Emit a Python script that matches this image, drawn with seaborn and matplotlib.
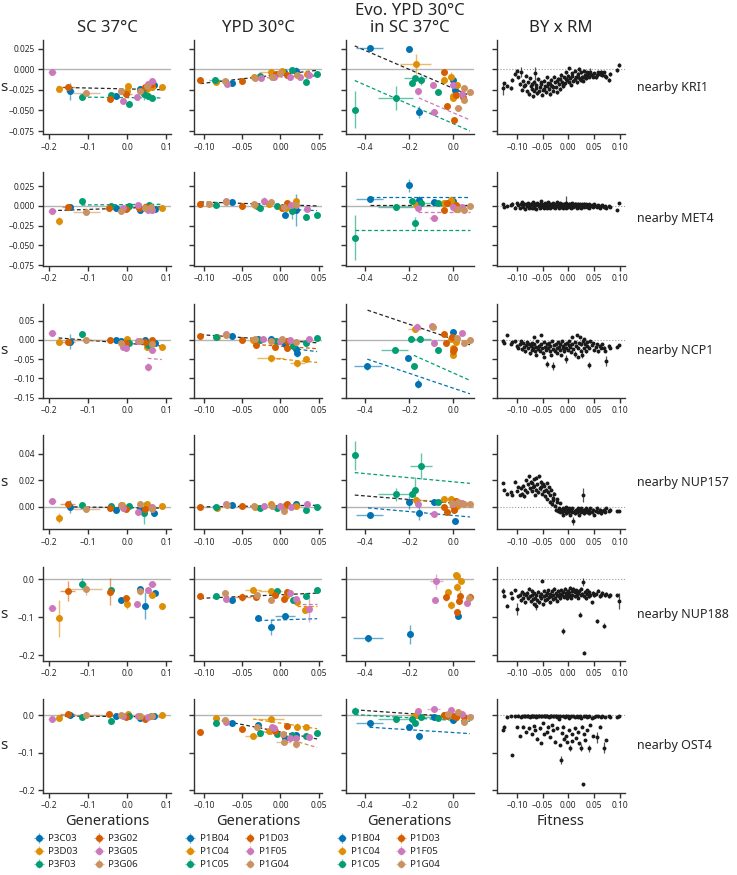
import numpy as np
import matplotlib
matplotlib.use("Agg")
import matplotlib.pyplot as plt
import seaborn as sns

# ---------------- data ----------------
GENES = ["KRI1", "MET4", "NCP1", "NUP157", "NUP188", "OST4"]
COL_TITLES = ["SC 37°C", "YPD 30°C", "Evo. YPD 30°C\nin SC 37°C", "BY x RM"]
XLABELS = ["Generations", "Generations", "Generations", "Fitness"]
STRAINS_P3 = ["P3C03", "P3D03", "P3F03", "P3G02", "P3G05", "P3G06"]
STRAINS_P1 = ["P1B04", "P1C04", "P1C05", "P1D03", "P1F05", "P1G04"]

# (strain index, generations, s[, xerr, yerr])
KRI1_SC37 = [(4,-0.193,-0.004,0.010,0.002),(1,-0.176,-0.0236,0.004,0.004),(3,-0.153,-0.0216,0.020,0.002),
             (0,-0.146,-0.027,0.010,0.010),(2,-0.117,-0.034),(5,-0.105,-0.029,0.035,0.002),(3,-0.044,-0.036),
             (2,-0.041,-0.031),(0,-0.030,-0.033),(5,-0.017,-0.026),(4,-0.011,-0.039,0.008,0.002),(1,0.001,-0.021),
             (1,-0.001,-0.026,0.004,0.004),(2,0.004,-0.042),(3,-0.004,-0.030,0.015,0.003),(4,0.024,-0.034),
             (0,0.031,-0.024),(5,0.031,-0.027),(2,0.042,-0.030,0.004,0.008),(3,0.046,-0.022),(1,0.049,-0.024),
             (5,0.050,-0.021),(4,0.054,-0.018),(2,0.053,-0.033),(4,0.062,-0.014,0.010,0.003),(3,0.064,-0.018),
             (1,0.062,-0.022),(2,0.063,-0.035),(0,0.069,-0.019),(1,0.088,-0.022)]
KRI1_YPD30 = [(3,-0.105,-0.013),(2,-0.086,-0.013,0.008,0.002),(1,-0.084,-0.016),(5,-0.073,-0.014),(4,-0.070,-0.018),
              (0,-0.063,-0.017),(3,-0.051,-0.014),(5,-0.034,-0.011),(1,-0.035,-0.009),(2,-0.027,-0.008),
              (4,-0.026,-0.011),(1,-0.013,-0.004,0.015,0.002),(5,-0.011,-0.0096),(4,-0.008,-0.010),(3,-0.006,-0.006),
              (1,0.002,-0.0024),(5,0.000,-0.005),(0,0.005,-0.004),(3,0.008,-0.0076),(4,0.013,-0.0096),
              (2,0.015,-0.0016),(0,0.020,-0.002,0.004,0.005),(5,0.022,-0.007),(4,0.026,-0.009),(1,0.035,-0.006),
              (2,0.034,-0.015),(4,0.037,-0.0076),(2,0.048,-0.006)]
KRI1_EVO = [(0,-0.381,0.026,0.062,0.002),(0,-0.201,0.025),(1,-0.171,0.0064,0.071,0.012),(2,-0.174,-0.011,0.050,0.003),
            (2,-0.187,-0.017),(2,-0.148,-0.0128,0.008,0.006),(4,-0.160,-0.027,0.008,0.004),(0,-0.157,-0.052,0.008,0.007),
            (2,-0.262,-0.035,0.080,0.015),(2,-0.448,-0.049,0.008,0.022),(4,-0.089,-0.052,0.020,0.002),
            (2,-0.069,-0.0276),(4,-0.094,-0.019),(3,-0.044,-0.0032),(1,-0.041,-0.0128,0.008,0.004),
            (1,-0.009,-0.009,0.008,0.005),(3,-0.030,-0.045),(0,0.000,-0.0136),(0,0.007,-0.025),(4,-0.004,-0.019),
            (1,-0.002,-0.035),(1,0.018,-0.019),(3,0.012,-0.031),(5,0.021,-0.047,0.020,0.002),(3,0.004,-0.062),
            (1,-0.003,-0.032),(4,0.037,-0.030),(5,0.046,-0.023),(5,0.046,-0.038),(3,0.043,-0.034),(5,0.075,-0.028)]

MET4_SC37 = [(4,-0.193,-0.0062,0.010,0.004),(1,-0.176,-0.0186,0.004,0.005),(3,-0.153,-0.0012,0.015,0.002),
             (0,-0.146,-0.0012,0.004,0.004),(2,-0.117,0.0058,0.004,0.004),(5,-0.105,-0.0079,0.035,0.002),
             (3,-0.047,-0.002),(2,-0.042,0.000),(0,-0.030,-0.002),(5,-0.017,-0.006),(3,-0.004,-0.004),
             (4,-0.010,-0.003),(2,0.004,0.000),(1,0.000,-0.002),(4,0.026,0.001),(3,0.029,-0.002),(0,0.032,-0.005),
             (5,0.044,-0.003),(1,0.046,-0.001),(2,0.056,0.001),(4,0.054,-0.0054),(3,0.051,-0.001),(4,0.062,-0.005),
             (5,0.061,-0.001),(0,0.071,-0.0045),(1,0.088,-0.002)]
MET4_YPD30 = [(3,-0.105,0.002),(5,-0.093,0.003),(2,-0.085,0.0012),(4,-0.072,0.006),(5,-0.071,0.005),(0,-0.063,0.0045),
              (3,-0.051,0.0004),(5,-0.035,0.003),(1,-0.034,0.001),(0,-0.031,0.000),(2,-0.027,-0.003),
              (4,-0.022,0.006,0.002,0.005),(5,-0.013,0.0045),(1,-0.015,0.002),(2,-0.005,0.000),(3,0.002,-0.003),
              (5,0.005,-0.001),(3,0.008,0.004),(1,0.007,-0.002),(0,0.006,-0.0116),(2,0.015,-0.006,0.003,0.010),
              (4,0.014,0.0012),(1,0.020,0.006,0.002,0.003),(0,0.021,-0.0054,0.004,0.020),(5,0.021,0.001),
              (4,0.035,-0.004),(2,0.034,-0.0145),(2,0.048,-0.0116)]
MET4_EVO = [(0,-0.381,0.009,0.060,0.002),(0,-0.201,0.026,0.004,0.008),(2,-0.448,-0.040,0.004,0.028),
            (2,-0.262,-0.0012,0.080,0.004),(2,-0.187,0.0058),(2,-0.174,-0.022,0.004,0.008),(0,-0.157,0.007,0.006,0.006),
            (2,-0.148,0.004,0.050,0.002),(1,-0.171,0.0012),(4,-0.160,-0.003),(4,-0.089,-0.015,0.020,0.002),
            (2,-0.069,0.0037),(0,-0.089,0.0045),(3,-0.044,-0.005),(1,-0.041,0.0037),(1,-0.009,0.008,0.008,0.004),
            (3,-0.030,0.004),(0,0.000,0.006),(1,-0.002,0.002),(3,0.012,0.001),(5,0.021,-0.004,0.020,0.002),
            (4,-0.004,-0.001),(5,0.046,-0.005),(4,0.037,-0.001),(5,0.075,0.000),(1,0.010,-0.004)]

NCP1_SC37 = [(4,-0.193,0.0186,0.010,0.003),(1,-0.176,-0.005,0.004,0.006),(3,-0.153,-0.005,0.020,0.003),
             (0,-0.146,-0.005,0.004,0.019),(2,-0.117,0.0144),(5,-0.105,-0.001,0.035,0.003),(3,-0.044,-0.001,0.004,0.006),
             (0,-0.030,-0.001),(0,-0.016,-0.0017),(1,-0.001,0.001),(5,-0.016,-0.008),(3,-0.004,-0.009),
             (4,-0.011,-0.018),(4,-0.004,-0.020),(2,0.004,-0.007),(4,0.026,-0.004),(5,0.031,-0.004),(0,0.046,0.000),
             (3,0.044,-0.006),(2,0.054,-0.0136),(1,0.051,-0.018),(4,0.052,-0.071,0.004,0.010),(5,0.062,-0.010),
             (4,0.062,-0.026,0.010,0.004),(3,0.064,0.000),(2,0.064,-0.0085),(0,0.070,-0.007),(1,0.088,-0.018)]
NCP1_YPD30 = [(3,-0.105,0.010),(2,-0.085,0.0068),(1,-0.083,0.008),(5,-0.072,0.0127),(4,-0.071,0.015,0.002,0.005),
              (0,-0.063,0.011),(3,-0.051,0.000),(0,-0.029,0.003),(5,-0.034,0.001),(1,-0.036,0.000),(2,-0.027,-0.001),
              (3,-0.032,-0.0127),(4,-0.023,0.001),(0,-0.013,0.003),(5,-0.012,-0.002),(1,-0.013,-0.048,0.018,0.010),
              (3,-0.007,-0.0195),(2,-0.006,-0.0034),(5,0.002,0.0034),(4,0.000,-0.002),(3,0.008,-0.021),
              (3,0.009,-0.0034),(0,0.006,-0.012,0.010,0.002),(4,0.013,-0.001),(2,0.016,-0.016),(0,0.021,-0.023),
              (0,0.022,-0.035,0.002,0.010),(1,0.022,-0.061,0.010,0.010),(5,0.020,-0.005),(1,0.034,-0.050),
              (2,0.034,-0.0076),(4,0.037,0.0025),(2,0.048,0.005)]
NCP1_EVO = [(0,-0.391,-0.069,0.060,0.010),(0,-0.206,-0.047,0.004,0.006),(0,-0.162,-0.114,0.004,0.012),
            (2,-0.267,-0.027,0.060,0.003),(2,-0.192,0.001),(2,-0.151,0.0025,0.050,0.007),(2,-0.180,-0.069),
            (2,-0.071,-0.026,0.004,0.006),(1,-0.176,0.028,0.030,0.003),(4,-0.165,0.033,0.004,0.010),(4,-0.098,0.037),
            (5,-0.094,0.034),(4,-0.089,-0.0076,0.015,0.003),(3,-0.044,0.016),(3,-0.032,-0.009),(1,-0.009,0.0025),
            (0,0.000,0.021),(3,-0.005,0.008),(1,0.000,-0.020),(3,0.004,-0.0246),(3,0.000,-0.030),(1,-0.004,-0.040),
            (5,0.018,0.005),(4,0.039,0.018),(5,0.046,-0.009),(5,0.075,-0.001),(1,0.010,-0.005)]

NUP157_SC37 = [(4,-0.193,0.0043,0.010,0.001),(1,-0.176,-0.0084,0.004,0.004),(3,-0.153,0.0025,0.020,0.001),
               (0,-0.146,0.000,0.004,0.005),(2,-0.117,0.0013),(5,-0.105,-0.0015,0.035,0.001),(3,-0.044,-0.001),
               (2,-0.041,0.0005),(0,-0.030,-0.0025),(5,-0.017,0.0013),(1,-0.014,0.0013),(3,-0.004,-0.0015),
               (4,-0.010,-0.0005),(2,0.004,0.001),(4,0.026,-0.0038),(0,0.033,-0.0015),(5,0.031,0.0025),
               (2,0.042,-0.0046,0.004,0.008),(3,0.046,-0.0015),(1,0.049,0.0023),(4,0.062,0.000),(5,0.063,-0.0015),
               (0,0.069,-0.0046),(1,0.088,0.001)]
NUP157_YPD30 = [(3,-0.105,0.000),(2,-0.085,-0.0003),(1,-0.083,-0.0008),(4,-0.072,0.002),(5,-0.070,0.0015),
                (0,-0.063,0.0015),(3,-0.051,0.0005),(5,-0.035,0.001),(1,-0.034,0.0002),(2,-0.027,-0.001),
                (4,-0.022,0.0005),(1,-0.013,0.0018),(5,-0.011,0.0005),(2,-0.005,-0.0008),(4,0.000,0.0005),
                (5,0.004,-0.0033),(3,0.008,0.0025),(1,0.007,0.0015),(0,0.006,0.0005),(4,0.014,0.000),(1,0.020,0.001),
                (0,0.021,0.0023),(2,0.034,-0.0025),(4,0.035,0.0018),(2,0.048,0.000)]
NUP157_EVO = [(2,-0.448,0.039,0.004,0.011),(0,-0.381,-0.0058,0.060,0.001),(2,-0.262,0.0094,0.080,0.005),
              (2,-0.187,0.0094),(2,-0.174,0.0124,0.004,0.010),(2,-0.148,0.031,0.050,0.010),(0,-0.201,0.0035,0.004,0.005),
              (1,-0.171,0.0048,0.050,0.001),(0,-0.157,-0.0046,0.004,0.005),(4,-0.160,0.0018),
              (4,-0.089,-0.0053,0.020,0.001),(0,-0.089,0.0035),(2,-0.069,0.0035),(1,-0.041,0.006,0.020,0.001),
              (3,-0.044,0.000),(3,-0.030,-0.0038),(1,-0.009,0.006),(5,-0.005,0.003),(1,-0.002,0.0005),
              (3,0.004,-0.0025),(0,0.007,-0.0106),(4,-0.004,0.0025),(3,0.012,0.0043),(5,0.021,0.0035,0.020,0.001),
              (1,0.018,0.001),(5,0.046,0.0018),(4,0.037,0.003),(5,0.075,0.0023)]

NUP188_SC37 = [(4,-0.193,-0.076,0.010,0.006),(1,-0.176,-0.103,0.004,0.049),(3,-0.153,-0.030,0.020,0.027),
               (2,-0.117,-0.011,0.004,0.015),(5,-0.105,-0.025,0.040,0.015),(3,-0.044,-0.032,0.004,0.036),
               (2,-0.041,-0.028),(0,-0.016,-0.054),(3,-0.004,-0.049,0.010,0.005),(1,-0.002,-0.064,0.004,0.015),
               (4,0.024,-0.066),(0,0.032,-0.026,0.004,0.008),(5,0.031,-0.031,0.004,0.010),(0,0.046,-0.069,0.004,0.035),
               (4,0.054,-0.028),(4,0.062,-0.013,0.010,0.004),(1,0.062,-0.042,0.008,0.008),(0,0.070,-0.036),
               (1,0.088,-0.069,0.004,0.008)]
NUP188_YPD30 = [(3,-0.105,-0.044),(2,-0.085,-0.045,0.004,0.008),(5,-0.073,-0.037),(4,-0.071,-0.052),
                (0,-0.063,-0.054,0.002,0.008),(3,-0.051,-0.046,0.012,0.010),(1,-0.036,-0.028,0.010,0.008),
                (5,-0.031,-0.040),(3,-0.032,-0.046),(1,-0.013,-0.030,0.015,0.005),(5,-0.012,-0.055),(2,-0.005,-0.030),
                (3,-0.007,-0.041,0.002,0.008),(3,0.008,-0.034),(4,0.013,-0.036),(1,0.007,-0.044,0.002,0.008),
                (3,0.005,-0.053),(2,0.016,-0.055),(4,0.020,-0.052),(1,0.022,-0.059),(2,0.034,-0.043),(1,0.032,-0.081),
                (4,0.037,-0.078,0.002,0.035),(2,0.048,-0.028),(0,-0.029,-0.101,0.002,0.006),
                (0,-0.012,-0.127,0.002,0.020),(0,0.006,-0.096,0.013,0.006)]
NUP188_EVO = [(0,-0.388,-0.156,0.070,0.010),(0,-0.196,-0.145,0.004,0.025),(4,-0.078,-0.005,0.030,0.020),
              (4,-0.082,-0.054),(1,-0.025,-0.032),(3,-0.032,-0.047,0.004,0.010),(1,-0.009,-0.067,0.004,0.010),
              (1,0.011,0.013),(1,0.016,0.009),(1,0.014,-0.020,0.004,0.010),(1,0.036,-0.0044,0.004,0.005),
              (3,0.028,-0.043,0.004,0.015),(3,0.025,-0.058),(3,0.018,-0.085,0.010,0.004),(0,0.021,-0.096),
              (3,0.073,-0.046,0.004,0.010),(4,0.060,-0.063),(5,0.070,-0.050)]

OST4_SC37 = [(4,-0.193,-0.011,0.010,0.003),(1,-0.176,-0.007),(3,-0.153,0.0036,0.020,0.002),(0,-0.146,0.0018),
             (2,-0.117,-0.0036),(5,-0.105,0.0018,0.040,0.002),(3,-0.046,0.0036),(2,-0.041,-0.014),(0,-0.030,-0.0018),
             (5,-0.017,0.000),(1,0.001,0.0036),(4,-0.010,-0.002),(3,-0.004,-0.0036),(2,0.004,-0.003),(4,0.026,-0.001),
             (0,0.032,-0.007),(5,0.031,-0.002),(3,0.046,-0.009),(4,0.054,-0.005),(2,0.060,-0.003),(5,0.063,-0.001),
             (0,0.068,-0.003),(1,0.088,0.000)]
OST4_YPD30 = [(3,-0.105,-0.044),(2,-0.085,-0.0196),(1,-0.084,-0.008),(5,-0.073,-0.0125),(4,-0.071,-0.019),
              (0,-0.063,-0.0214),(3,-0.051,-0.0375),(1,-0.036,-0.055,0.010,0.004),(5,-0.031,-0.032),(0,-0.029,-0.025),
              (2,-0.027,-0.046),(1,-0.013,-0.0107,0.018,0.004),(1,-0.015,-0.043),(4,-0.011,-0.032),(4,-0.008,-0.034),
              (3,-0.007,-0.043),(2,-0.005,-0.050),(5,0.003,-0.050),(0,0.006,-0.0616),(5,0.004,-0.072,0.010,0.004),
              (3,0.008,-0.0295),(4,0.013,-0.061),(2,0.015,-0.052),(0,0.020,-0.052),(4,0.020,-0.0616),
              (5,0.020,-0.077,0.002,0.010),(1,0.022,-0.0304,0.002,0.010),(1,0.034,-0.032),(2,0.034,-0.056,0.002,0.008),
              (4,0.037,-0.057),(2,0.048,-0.048)]
OST4_EVO = [(2,-0.448,0.0125,0.004,0.010),(0,-0.381,-0.0205,0.060,0.002),(2,-0.262,-0.0107,0.080,0.002),
            (0,-0.201,-0.032),(2,-0.187,-0.0098),(2,-0.174,-0.0205,0.004,0.008),(0,-0.157,-0.056,0.004,0.010),
            (1,-0.171,0.0018,0.040,0.002),(4,-0.160,0.0125,0.004,0.008),(2,-0.148,-0.0036,0.050,0.002),
            (4,-0.089,0.017,0.030,0.008),(0,-0.089,-0.0036),(2,-0.069,-0.007),(3,-0.044,0.0018),(1,-0.041,0.000),
            (3,-0.030,-0.001),(5,-0.025,0.003),(4,-0.009,0.0143),(1,-0.009,0.001),(0,0.000,-0.0125),(3,0.004,-0.001),
            (3,0.012,-0.0054),(5,0.021,0.008),(1,0.018,-0.002),(4,0.037,0.0036),(5,0.046,-0.0188),(3,0.046,-0.0036),
            (5,0.075,-0.0036)]

# fitted lines: (strain index or -1 for all strains, start generation, slope, intercept)
KRI1_SC37_FITS = [(-1,-0.180,-0.011,-0.024),(2,-0.117,-0.005,-0.0345)]
KRI1_YPD30_FITS = [(-1,-0.105,0.105,-0.0065),(4,-0.026,0.054,-0.0096),(2,0.034,0.28,-0.0205)]
KRI1_EVO_FITS = [(-1,-0.448,-0.115,-0.0234),(2,-0.448,-0.117,-0.0662),(4,-0.157,-0.115,-0.053)]
MET4_SC37_FITS = [(-1,-0.193,0.017,-0.0027),(2,-0.117,0.004,0.0017)]
MET4_YPD30_FITS = [(-1,-0.105,-0.033,0.0016),(0,0.006,-0.048,-0.0037)]
MET4_EVO_FITS = [(0,-0.381,0.0,0.011),(-1,-0.381,0.0,0.0012),(2,-0.448,0.0,-0.030),(4,-0.160,0.0,-0.0083)]
NCP1_SC37_FITS = [(-1,-0.176,-0.0795,-0.009),(4,0.052,-0.083,-0.0437)]
NCP1_YPD30_FITS = [(-1,-0.105,-0.139,-0.001),(3,-0.032,-0.1375,-0.0163),(0,0.006,-0.25,-0.0185),(1,-0.013,-0.18,-0.0499)]
NCP1_EVO_FITS = [(-1,-0.390,-0.193,0.0018),(2,-0.180,-0.255,-0.086),(0,-0.391,-0.193,-0.1255)]
NUP157_SC37_FITS = [(-1,-0.153,-0.004,-0.0006)]
NUP157_YPD30_FITS = [(-1,-0.105,0.008,0.0008)]
NUP157_EVO_FITS = [(2,-0.448,-0.0155,0.0189),(-1,-0.448,-0.0136,0.0028),(0,-0.388,-0.0147,-0.0065)]
NUP188_SC37_FITS = []
NUP188_YPD30_FITS = [(-1,-0.105,0.09,-0.0405),(0,-0.029,0.065,-0.107),(4,0.020,0.0,-0.065),(1,0.022,0.0,-0.070)]
NUP188_EVO_FITS = []
OST4_SC37_FITS = [(-1,-0.176,-0.008,-0.0035)]
OST4_YPD30_FITS = [(-1,-0.085,-0.39,-0.0443),(1,-0.036,-0.31,-0.021),(5,-0.031,-0.6,-0.057)]
OST4_EVO_FITS = [(-1,-0.448,-0.041,-0.0039),(2,-0.448,-0.034,-0.0135),(0,-0.381,-0.037,-0.046)]

# BY x RM segregants: fitness (shared) and s per gene
BYRM_FITNESS = [
    -0.127,-0.125,-0.120,-0.112,-0.109,-0.103,-0.099,-0.097,-0.094,-0.092,
    -0.090,-0.088,-0.086,-0.085,-0.083,-0.081,-0.079,-0.077,-0.075,-0.073,
    -0.071,-0.070,-0.069,-0.067,-0.066,-0.064,-0.063,-0.062,-0.060,-0.058,
    -0.057,-0.056,-0.054,-0.053,-0.052,-0.050,-0.048,-0.047,-0.046,-0.044,
    -0.042,-0.041,-0.040,-0.038,-0.036,-0.035,-0.034,-0.032,-0.030,-0.029,
    -0.028,-0.026,-0.024,-0.023,-0.022,-0.020,-0.018,-0.017,-0.016,-0.014,
    -0.012,-0.011,-0.010,-0.008,-0.006,-0.005,-0.004,-0.002,0.000,0.001,
    0.002,0.004,0.006,0.007,0.008,0.010,0.012,0.013,0.014,0.016,
    0.018,0.019,0.020,0.022,0.024,0.025,0.026,0.028,0.030,0.031,
    0.032,0.034,0.036,0.037,0.040,0.041,0.043,0.046,0.048,0.050,
    0.054,0.056,0.058,0.062,0.064,0.066,0.070,0.072,0.074,0.078,
    0.080,0.094,0.098]
KRI1_BYRM = [
    -0.023,-0.017,-0.020,-0.023,-0.013,-0.006,-0.002,-0.010,-0.018,-0.004,
    -0.025,-0.014,-0.021,-0.019,-0.008,-0.027,-0.016,-0.030,-0.011,-0.020,
    -0.024,-0.018,-0.033,-0.015,-0.026,-0.005,-0.023,-0.019,-0.029,-0.012,
    -0.027,-0.022,-0.018,-0.016,-0.031,-0.025,-0.014,-0.024,-0.021,-0.028,
    -0.010,-0.020,-0.017,-0.024,-0.030,-0.018,-0.013,-0.020,-0.026,-0.022,
    -0.009,-0.016,-0.022,-0.014,-0.028,-0.012,-0.018,-0.012,-0.024,-0.007,
    -0.015,-0.019,-0.021,-0.010,-0.017,-0.012,-0.004,-0.013,-0.008,-0.016,
    0.001,-0.011,-0.019,-0.008,-0.005,-0.014,-0.002,-0.012,-0.009,-0.016,
    -0.006,-0.010,0.000,-0.012,-0.004,-0.013,-0.009,-0.014,-0.002,-0.010,
    -0.007,-0.011,-0.007,-0.004,-0.009,-0.006,-0.003,-0.007,-0.009,-0.005,
    -0.010,-0.007,-0.004,-0.006,-0.003,-0.007,-0.004,-0.008,-0.010,-0.013,
    -0.006,-0.001,0.005]
MET4_BYRM = [
    0.002,-0.001,0.000,0.001,0.003,-0.002,0.004,0.001,-0.003,0.002,
    0.005,-0.001,0.003,-0.004,0.002,0.000,0.004,-0.002,0.001,0.003,
    -0.003,0.002,0.005,0.000,-0.002,0.003,0.001,-0.004,0.004,0.002,
    0.000,-0.002,0.003,0.006,0.001,-0.001,0.002,-0.003,0.004,0.000,
    0.002,-0.002,0.005,0.001,-0.003,0.003,0.000,0.002,-0.001,0.004,
    0.001,-0.003,0.002,0.005,0.000,0.003,-0.002,0.001,0.004,-0.001,
    0.002,0.000,-0.003,0.003,0.001,-0.002,0.004,0.001,-0.001,0.003,
    0.000,0.002,-0.002,0.004,0.001,-0.001,0.003,0.000,0.002,-0.002,
    0.001,0.003,-0.001,0.002,0.000,-0.002,0.002,0.001,-0.001,0.003,
    0.000,0.002,-0.001,0.001,0.002,-0.002,0.000,0.001,-0.001,0.002,
    0.000,-0.001,0.001,-0.002,0.000,0.001,-0.001,0.000,-0.002,0.000,
    -0.001,-0.005,0.004]
NCP1_BYRM = [
    -0.002,-0.008,0.012,-0.010,-0.006,-0.004,-0.015,-0.020,-0.012,-0.003,
    -0.025,-0.008,-0.018,-0.030,-0.014,-0.005,-0.022,-0.010,-0.035,-0.016,
    -0.008,-0.026,-0.020,0.007,-0.012,-0.030,-0.018,-0.038,-0.004,-0.024,
    -0.015,-0.028,-0.010,0.013,-0.022,-0.033,-0.006,-0.045,-0.018,-0.027,
    -0.012,-0.063,-0.020,-0.008,-0.030,-0.016,-0.040,-0.003,-0.024,-0.067,
    -0.014,-0.028,-0.010,-0.020,-0.034,-0.006,-0.018,-0.026,-0.012,-0.040,
    -0.004,-0.022,-0.016,-0.030,-0.010,-0.050,-0.020,-0.008,-0.026,-0.014,
    -0.003,-0.018,-0.032,-0.010,0.008,-0.024,-0.006,-0.036,-0.015,0.012,
    -0.020,-0.044,-0.008,0.007,-0.028,-0.012,-0.038,-0.004,0.002,-0.022,
    -0.010,-0.030,-0.016,-0.006,-0.065,-0.020,-0.004,-0.014,-0.008,-0.026,
    -0.018,-0.012,-0.030,-0.016,-0.022,-0.010,-0.020,-0.028,-0.055,-0.015,
    -0.022,-0.018,-0.014]
NUP157_BYRM = [
    0.018,0.013,0.010,0.011,0.009,0.019,0.012,0.015,0.009,0.014,
    0.010,0.016,0.008,0.013,0.020,0.011,0.017,0.023,0.014,0.019,
    0.018,0.012,0.015,0.021,0.016,0.009,0.013,0.022,0.017,0.011,
    0.023,0.014,0.019,0.015,0.010,0.017,0.012,0.016,0.008,0.013,
    0.018,0.006,0.011,0.015,0.004,0.009,0.013,0.002,0.007,0.005,
    0.010,0.001,-0.002,0.004,0.006,-0.003,-0.001,-0.004,0.003,-0.002,
    -0.004,-0.001,-0.006,-0.002,-0.003,0.000,-0.005,-0.002,-0.004,-0.001,
    -0.003,-0.006,-0.002,-0.004,-0.001,-0.011,-0.003,-0.005,-0.002,-0.004,
    -0.001,-0.003,-0.006,-0.002,-0.004,-0.001,-0.003,0.009,-0.002,-0.005,
    -0.003,-0.001,-0.004,-0.002,-0.005,-0.003,-0.001,-0.004,-0.002,-0.006,
    -0.003,-0.001,-0.004,-0.002,-0.005,-0.003,-0.002,-0.004,-0.001,-0.003,
    -0.002,-0.003,-0.003]
NUP188_BYRM = [
    -0.030,-0.043,-0.069,-0.035,-0.050,-0.028,-0.078,-0.045,-0.040,-0.055,
    -0.032,-0.048,-0.038,-0.060,-0.042,-0.035,-0.050,-0.025,-0.045,-0.058,
    -0.040,-0.030,-0.052,-0.065,-0.036,-0.048,-0.042,-0.070,-0.055,-0.033,
    -0.060,-0.044,-0.038,-0.050,-0.003,-0.066,-0.045,-0.030,-0.055,-0.041,
    -0.035,-0.052,-0.028,-0.047,-0.060,-0.038,-0.043,-0.030,-0.052,-0.040,
    -0.025,-0.048,-0.036,-0.056,-0.042,-0.030,-0.045,-0.038,-0.050,-0.028,
    -0.040,-0.136,-0.033,-0.046,-0.025,-0.041,-0.035,-0.050,-0.030,-0.043,
    -0.036,-0.022,-0.048,-0.030,-0.040,-0.025,-0.045,-0.033,-0.028,-0.042,
    -0.035,-0.048,-0.030,-0.093,-0.040,-0.025,-0.038,-0.007,-0.194,-0.044,
    -0.032,-0.050,-0.038,-0.028,-0.045,-0.033,-0.040,-0.060,-0.035,-0.042,
    -0.038,-0.109,-0.030,-0.045,-0.040,-0.035,-0.122,-0.042,-0.038,-0.045,
    -0.040,-0.042,-0.057]
OST4_BYRM = [
    -0.038,-0.030,-0.004,-0.002,-0.106,-0.003,-0.032,-0.001,-0.055,-0.004,
    -0.002,-0.030,-0.001,-0.003,-0.045,-0.002,-0.001,-0.035,-0.004,-0.002,
    -0.050,-0.001,-0.003,-0.028,-0.002,-0.040,-0.001,-0.004,-0.062,-0.002,
    -0.001,-0.035,-0.003,-0.074,-0.002,-0.020,-0.001,-0.050,-0.003,-0.002,
    -0.045,-0.001,-0.030,-0.004,-0.002,-0.058,-0.001,-0.025,-0.003,-0.040,
    -0.002,-0.070,-0.001,-0.005,-0.035,-0.002,-0.010,-0.080,-0.003,-0.119,
    -0.048,-0.002,-0.030,-0.062,-0.004,-0.001,-0.055,-0.072,-0.002,-0.040,
    -0.006,-0.086,-0.003,-0.050,-0.068,-0.002,-0.035,-0.005,-0.060,-0.003,
    -0.045,-0.004,-0.075,-0.002,-0.086,-0.008,-0.030,-0.184,-0.050,-0.003,
    -0.065,-0.002,-0.040,-0.005,-0.088,-0.003,-0.025,-0.006,-0.055,-0.004,
    -0.002,-0.059,-0.003,-0.030,-0.005,-0.002,-0.086,-0.004,-0.065,-0.002,
    -0.004,-0.005,-0.003]
# larger error bars of individual segregants: (index, yerr)
KRI1_BYRM_ERR = [(0,0.008),(9,0.006),(25,0.008),(45,0.005),(96,0.004)]
MET4_BYRM_ERR = [(66,0.008)]
NCP1_BYRM_ERR = [(41,0.008),(49,0.010),(65,0.010),(77,0.008),(94,0.008),(108,0.012),(86,0.010)]
NUP157_BYRM_ERR = [(87,0.005),(75,0.003),(33,0.003),(48,0.004)]
NUP188_BYRM_ERR = [(0,0.008),(6,0.015),(34,0.004),(61,0.008),(83,0.006),(87,0.010),(101,0.005),(106,0.006),(112,0.020),(27,0.010)]
OST4_BYRM_ERR = [(59,0.010),(101,0.015),(106,0.015),(94,0.010),(71,0.008),(84,0.010)]

# ---------------- layout / style ----------------
ROW_PANELS = [
    (KRI1_SC37, KRI1_YPD30, KRI1_EVO, KRI1_SC37_FITS, KRI1_YPD30_FITS, KRI1_EVO_FITS, KRI1_BYRM, KRI1_BYRM_ERR),
    (MET4_SC37, MET4_YPD30, MET4_EVO, MET4_SC37_FITS, MET4_YPD30_FITS, MET4_EVO_FITS, MET4_BYRM, MET4_BYRM_ERR),
    (NCP1_SC37, NCP1_YPD30, NCP1_EVO, NCP1_SC37_FITS, NCP1_YPD30_FITS, NCP1_EVO_FITS, NCP1_BYRM, NCP1_BYRM_ERR),
    (NUP157_SC37, NUP157_YPD30, NUP157_EVO, NUP157_SC37_FITS, NUP157_YPD30_FITS, NUP157_EVO_FITS, NUP157_BYRM, NUP157_BYRM_ERR),
    (NUP188_SC37, NUP188_YPD30, NUP188_EVO, NUP188_SC37_FITS, NUP188_YPD30_FITS, NUP188_EVO_FITS, NUP188_BYRM, NUP188_BYRM_ERR),
    (OST4_SC37, OST4_YPD30, OST4_EVO, OST4_SC37_FITS, OST4_YPD30_FITS, OST4_EVO_FITS, OST4_BYRM, OST4_BYRM_ERR),
]
for row in ROW_PANELS:
    assert len(row[6]) == len(BYRM_FITNESS), len(row[6])

YLIMS = [(-0.079, 0.035), (-0.076, 0.043), (-0.150, 0.094), (-0.017, 0.054), (-0.216, 0.033), (-0.206, 0.044)]
YTICKS = [[-0.075, -0.05, -0.025, 0.0, 0.025], [-0.075, -0.05, -0.025, 0.0, 0.025],
          [-0.15, -0.10, -0.05, 0.0, 0.05], [0.0, 0.02, 0.04], [-0.2, -0.1, 0.0], [-0.2, -0.1, 0.0]]
XLIMS = [(-0.216, 0.112), (-0.113, 0.055), (-0.49, 0.092), (-0.139, 0.11)]
XTICKS = [[-0.2, -0.1, 0.0, 0.1], [-0.10, -0.05, 0.0, 0.05], [-0.4, -0.2, 0.0], [-0.10, -0.05, 0.0, 0.05, 0.10]]
DEF_XERR = [0.004, 0.002, 0.008]
DEF_YERR = [0.002, 0.002, 0.004, 0.001, 0.005, 0.004]
BYRM_DEF_YERR = [0.002, 0.0015, 0.003, 0.001, 0.004, 0.003]

sns.set_theme(style="ticks")
plt.rcParams['font.family'] = ['Noto Sans', 'DejaVu Sans']
plt.rcParams['axes.linewidth'] = 1.0
plt.rcParams['axes.edgecolor'] = '#333333'
palette = sns.color_palette("colorblind", 6)

fig, axes = plt.subplots(6, 4, figsize=(7.37, 8.75), dpi=100)
fig.subplots_adjust(left=0.0583, right=0.848, top=0.954, bottom=0.094, wspace=0.18, hspace=0.40)

legend_handles = {}
for r, row in enumerate(ROW_PANELS):
    for c in range(3):
        ax = axes[r, c]
        pts = row[c]
        fits = row[3 + c]
        ax.axhline(0, color='#b4b4b4', lw=1.0, zorder=0)
        xmax = max(p[1] for p in pts)
        for k in range(6):
            sel = [p for p in pts if p[0] == k]
            if not sel:
                continue
            xs = np.array([p[1] for p in sel])
            ys = np.array([p[2] for p in sel])
            xe = np.array([p[3] if len(p) > 3 else DEF_XERR[c] for p in sel])
            ye = np.array([p[4] if len(p) > 4 else DEF_YERR[r] for p in sel])
            col = palette[k]
            cont = ax.errorbar(xs, ys, xerr=xe, yerr=ye, fmt='o', ms=4, color=col,
                               ecolor=(*col, 0.6), elinewidth=1.0, capsize=0, zorder=3)
            if r == 5:
                legend_handles[(c, k)] = cont
        for (k, x0, slope, icpt) in fits:
            xx = np.array([x0, xmax])
            colr = (0.15, 0.15, 0.15) if k < 0 else palette[k]
            ax.plot(xx, icpt + slope * xx, ls=(0, (3, 2)), lw=0.9, color=colr, zorder=2)
    # BY x RM
    ax = axes[r, 3]
    ax.axhline(0, color='#999999', lw=0.8, ls=':', zorder=0)
    fit = np.array(BYRM_FITNESS)
    s = np.array(row[6])
    err = np.full(len(fit), BYRM_DEF_YERR[r])
    for i, e in row[7]:
        err[i] = e
    ax.errorbar(fit, s, yerr=err, fmt='none', ecolor=(0.1, 0.1, 0.1, 0.75), elinewidth=0.9, capsize=0, zorder=2)
    sns.scatterplot(x=fit, y=s, ax=ax, color='#1a1a1a', s=8, linewidth=0, zorder=3)
    ax.text(1.09, 0.5, f"nearby {GENES[r]}", transform=ax.transAxes, ha='left', va='center', fontsize=9)

for r in range(6):
    for c in range(4):
        ax = axes[r, c]
        ax.set_xlim(*XLIMS[c])
        ax.set_xticks(XTICKS[c])
        ax.set_ylim(*YLIMS[r])
        ax.set_yticks(YTICKS[r])
        ax.tick_params(labelsize=6, length=3.5, width=1.0, color='#333333', pad=2.5)
        if c > 0:
            ax.tick_params(labelleft=False)
        sns.despine(ax=ax)
    if r != 1:
        axes[r, 0].set_ylabel("s", fontsize=11, rotation=0, ha='left', va='center')
        axes[r, 0].yaxis.set_label_coords(-0.33, 0.5)

for c in range(4):
    axes[0, c].set_title(COL_TITLES[c], fontsize=12, pad=6, linespacing=1.05)
    axes[5, c].set_xlabel(XLABELS[c], fontsize=10.5, labelpad=3)

for c, names in enumerate([STRAINS_P3, STRAINS_P1, STRAINS_P1]):
    handles = [legend_handles[(c, k)] for k in range(6)]
    axes[5, c].legend(handles, names, loc='upper left', bbox_to_anchor=(-0.08, -0.44), ncol=2,
                      frameon=False, fontsize=7, handletextpad=0.3, columnspacing=1.5,
                      handlelength=1.3, labelspacing=0.4, borderaxespad=0, borderpad=0)

fig.savefig("out.png", dpi=100)
